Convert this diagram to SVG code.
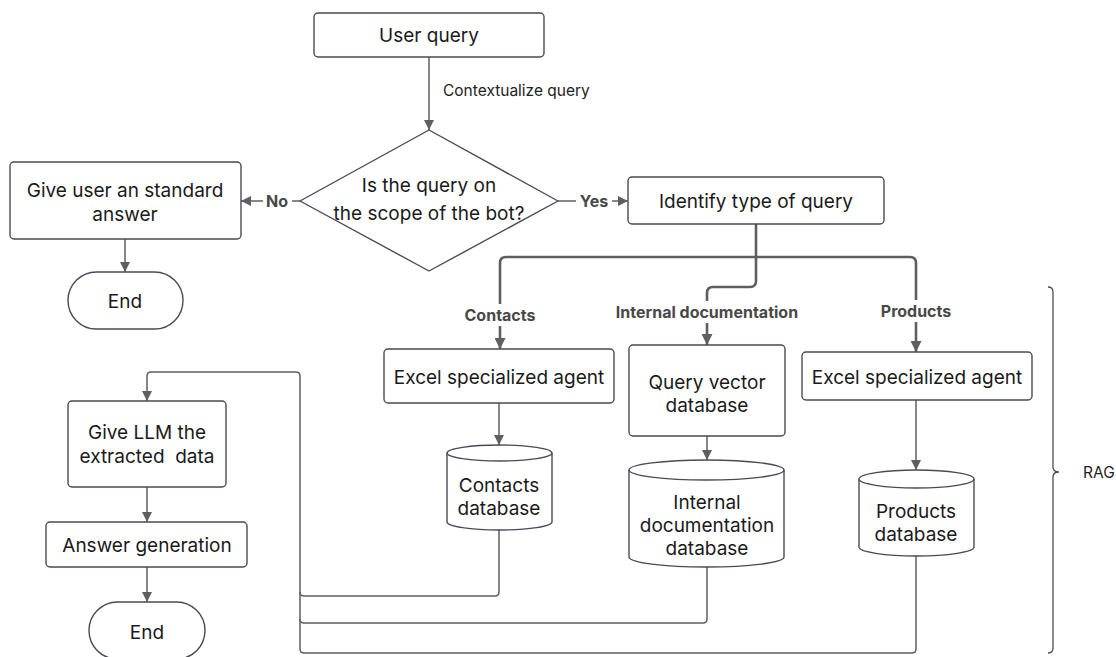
<svg xmlns="http://www.w3.org/2000/svg" width="1116" height="657" viewBox="0 0 1116 657">
  <defs>
    <marker id="arrow" viewBox="0 0 10 10" refX="10" refY="5" markerWidth="10" markerHeight="10" markerUnits="userSpaceOnUse" orient="auto">
      <path d="M0,0 L10,5 L0,10 Z" fill="#5f5f5f"/>
    </marker>
    <marker id="arrowBig" viewBox="0 0 10 10" refX="10" refY="5" markerWidth="12" markerHeight="11" markerUnits="userSpaceOnUse" orient="auto">
      <path d="M0,0 L10,5 L0,10 Z" fill="#5f5f5f"/>
    </marker>
  </defs>
  <style>
    .box { fill: #ffffff; stroke: #4a4a52; stroke-width: 1.4; }
    .txt { font-family: Inter, "Liberation Sans", sans-serif; font-size: 19px; fill: #1a1a1a; text-anchor: middle; dominant-baseline: central; }
    .lbl { font-family: Inter, "Liberation Sans", sans-serif; font-size: 16px; font-weight: bold; fill: #484848; text-anchor: middle; dominant-baseline: central; }
    .note { font-family: Inter, "Liberation Sans", sans-serif; font-size: 15.5px; fill: #222; dominant-baseline: central; }
    .line { fill: none; stroke: #5f5f5f; stroke-width: 1.5; }
    .thick { fill: none; stroke: #5f5f5f; stroke-width: 2.6; }
    .bg { fill: #ffffff; }
  </style>
  <rect width="1116" height="657" fill="#ffffff"/>

  <!-- connectors -->
  <g id="connectors">
    <path class="line" d="M429,57 V130" marker-end="url(#arrow)"/>
    <path class="line" d="M300,201 H241" marker-end="url(#arrow)"/>
    <path class="line" d="M558,201 H628" marker-end="url(#arrow)"/>
    <path class="line" d="M125,239 V272" marker-end="url(#arrow)"/>
    <!-- branches out of the query classifier -->
    <path class="thick" d="M756,224 V281 Q756,287 750,287 H713 Q707,287 707,293 V345" marker-end="url(#arrowBig)"/>
    <path class="thick" d="M756,257 H506 Q500,257 500,263 V349" marker-end="url(#arrowBig)"/>
    <path class="thick" d="M756,257 H910 Q916,257 916,263 V352" marker-end="url(#arrowBig)"/>
    <!-- agents to databases -->
    <path class="line" d="M499,403 V445" marker-end="url(#arrow)"/>
    <path class="line" d="M707,436 V460" marker-end="url(#arrow)"/>
    <path class="line" d="M916,400 V470" marker-end="url(#arrow)"/>
    <!-- database results back to the LLM -->
    <path class="line" d="M916,556 V649 Q916,653 912,653 H304 Q300,653 300,649 V376 Q300,372 296,372 H151 Q147,372 147,376 V401" marker-end="url(#arrow)"/>
    <path class="line" d="M707,567 V619 Q707,623 703,623 H304 Q300,623 300,619"/>
    <path class="line" d="M499,530 V592 Q499,596 495,596 H304 Q300,596 300,592"/>
    <path class="line" d="M147,487 V522" marker-end="url(#arrow)"/>
    <path class="line" d="M147,567 V602" marker-end="url(#arrow)"/>

    <!-- connector labels -->
    <text class="note" x="443" y="90">Contextualize query</text>
    <rect class="bg" x="263" y="191" width="29" height="20"/>
    <text class="lbl" x="277" y="201">No</text>
    <rect class="bg" x="576" y="191" width="36" height="20"/>
    <text class="lbl" x="594" y="201">Yes</text>
    <rect class="bg" x="458" y="304" width="84" height="22"/>
    <text class="lbl" x="500" y="315">Contacts</text>
    <rect class="bg" x="608" y="301" width="198" height="22"/>
    <text class="lbl" x="707" y="312">Internal documentation</text>
    <rect class="bg" x="874" y="300" width="84" height="22"/>
    <text class="lbl" x="916" y="311">Products</text>
  </g>

  <g id="user-query">
    <rect class="box" x="314" y="13" width="230" height="44" rx="4"/>
    <text class="txt" x="429" y="35">User query</text>
  </g>

  <g id="scope-check">
    <path class="box" d="M429,130 L558,201 L429,271 L300,201 Z" stroke-linejoin="round"/>
    <text class="txt" x="429" y="185">Is the query on</text>
    <text class="txt" x="429" y="213">the scope of the bot?</text>
  </g>

  <g id="standard-answer">
    <rect class="box" x="10" y="162" width="231" height="77" rx="4"/>
    <text class="txt" x="125" y="190">Give user an standard</text>
    <text class="txt" x="125" y="214">answer</text>
  </g>

  <g id="end-top">
    <rect class="box" x="68" y="272" width="115" height="57" rx="28.5"/>
    <text class="txt" x="125" y="301">End</text>
  </g>

  <g id="identify-type">
    <rect class="box" x="628" y="177" width="256" height="47" rx="4"/>
    <text class="txt" x="756" y="201">Identify type of query</text>
  </g>

  <g id="contacts-agent">
    <rect class="box" x="384" y="349" width="230" height="54" rx="4"/>
    <text class="txt" x="499" y="377">Excel specialized agent</text>
  </g>

  <g id="query-vector">
    <rect class="box" x="629" y="345" width="156" height="91" rx="4"/>
    <text class="txt" x="707" y="382">Query vector</text>
    <text class="txt" x="707" y="405">database</text>
  </g>

  <g id="products-agent">
    <rect class="box" x="802" y="352" width="230" height="48" rx="4"/>
    <text class="txt" x="917" y="377">Excel specialized agent</text>
  </g>

  <g id="contacts-db">
    <path class="box" d="M447,453 A52.5,8 0 0 1 552,453 V522 A52.5,8 0 0 1 447,522 Z"/>
    <path class="box" d="M447,453 A52.5,8 0 0 0 552,453" fill="none"/>
    <text class="txt" x="499" y="485">Contacts</text>
    <text class="txt" x="499" y="508">database</text>
  </g>

  <g id="internal-docs-db">
    <path class="box" d="M629,470 A77.5,10 0 0 1 784,470 V557 A77.5,10 0 0 1 629,557 Z"/>
    <path class="box" d="M629,470 A77.5,10 0 0 0 784,470" fill="none"/>
    <text class="txt" x="707" y="502">Internal</text>
    <text class="txt" x="707" y="525">documentation</text>
    <text class="txt" x="707" y="548">database</text>
  </g>

  <g id="products-db">
    <path class="box" d="M859,479 A57.5,9 0 0 1 974,479 V547 A57.5,9 0 0 1 859,547 Z"/>
    <path class="box" d="M859,479 A57.5,9 0 0 0 974,479" fill="none"/>
    <text class="txt" x="916" y="511">Products</text>
    <text class="txt" x="916" y="534">database</text>
  </g>

  <g id="give-llm">
    <rect class="box" x="68" y="401" width="158" height="86" rx="4"/>
    <text class="txt" x="147" y="432">Give LLM the</text>
    <text class="txt" x="147" y="456" xml:space="preserve">extracted  data</text>
  </g>

  <g id="answer-generation">
    <rect class="box" x="46" y="522" width="201" height="45" rx="4"/>
    <text class="txt" x="147" y="545">Answer generation</text>
  </g>

  <g id="end-bottom">
    <rect class="box" x="89" y="602" width="116" height="57" rx="28.5"/>
    <text class="txt" x="147" y="632">End</text>
  </g>

  <g id="rag-brace">
    <path fill="none" stroke="#4a4a52" stroke-width="1.3" d="M1048,287 Q1053,287 1053,292 V467 Q1053,472 1059,472 Q1053,472 1053,477 V648 Q1053,653 1048,653"/>
    <text class="note" x="1083" y="472">RAG</text>
  </g>
</svg>
